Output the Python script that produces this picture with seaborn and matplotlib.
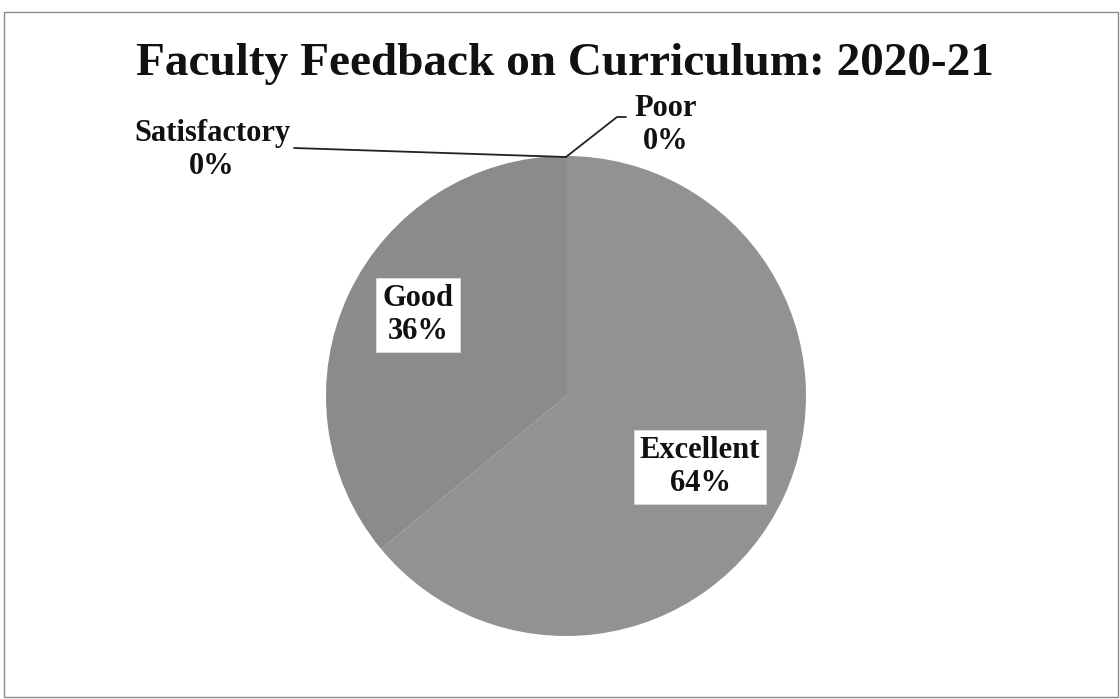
import matplotlib
matplotlib.use("Agg")
import matplotlib.pyplot as plt
import seaborn as sns
from matplotlib.patches import Rectangle

categories = ["Excellent", "Good", "Satisfactory", "Poor"]
values = [64, 36, 0, 0]
title = "Faculty Feedback on Curriculum: 2020-21"
slice_colors = ["#929292", "#8b8b8b", "#8a8a8a", "#8a8a8a"]

sns.set_theme(style="white")
plt.rcParams['font.family'] = ['Liberation Serif', 'DejaVu Serif']

W, H = 1120, 699
fig = plt.figure(figsize=(W / 100, H / 100), dpi=100)
fig.patch.set_facecolor("white")

# axes covering the figure, 1 data unit = 240 px, pie centre at px (566, 396)
R = 240.0
cx, cy = 566.0, 396.0
ax = fig.add_axes([0, 0, 1, 1])
ax.set_aspect("equal")
ax.axis("off")

def P(px, py):
    return ((px - cx) / R, (cy - py) / R)

wedges, _ = ax.pie(values, colors=slice_colors, startangle=90, counterclock=False,
                   radius=1.0, center=(0, 0), wedgeprops=dict(linewidth=0))
ax.set_xlim(-cx / R, (W - cx) / R)
ax.set_ylim(-(H - cy) / R, cy / R)

fs = 22
label_pos = {
    "Excellent": P(700, 467),
    "Good": P(418, 315),
    "Satisfactory": P(212, 150),
    "Poor": P(666, 125),
}
boxed = {"Excellent", "Good"}
for cat, v in zip(categories, values):
    x, y = label_pos[cat]
    kw = dict(ha="center", va="center", fontsize=fs, fontweight="bold",
              color="#111111", linespacing=1.2)
    if cat in boxed:
        kw["bbox"] = dict(boxstyle="square,pad=0.2", facecolor="white", edgecolor="#dddddd", linewidth=0.6)
    ax.text(x, y, f"{cat}\n{v}%", **kw)

# leader lines
top = P(566, 157)
s_end = P(294, 148)
ax.plot([s_end[0], top[0]], [s_end[1], top[1]], color="#222222", lw=1.3)
p1 = P(617, 117)
p2 = P(626, 117)
ax.plot([top[0], p1[0], p2[0]], [top[1], p1[1], p2[1]], color="#222222", lw=1.3)

tx, ty = P(565, 64)
ax.text(tx, ty, title, ha="center", va="center", fontsize=34, fontweight="bold", color="#111111")

# figure frame
fig.patches.append(Rectangle((4 / W, 2 / H), (W - 6) / W, (H - 14) / H, transform=fig.transFigure,
                             fill=False, edgecolor="#8a8a8a", linewidth=1.0))

fig.savefig("out.png", dpi=100, facecolor="white")
